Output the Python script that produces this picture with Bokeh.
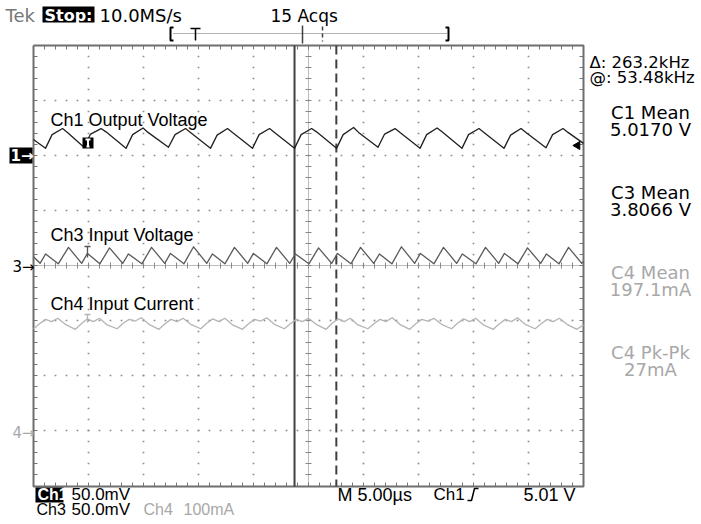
import math
from bokeh.plotting import figure
from bokeh.models import Range1d
from bokeh.core.properties import value
from bokeh.embed import file_html
from bokeh.resources import INLINE

# ---------------- data (time in microseconds, level in screen divisions) -------------
ch1_t = [-25.00, -23.91, -23.31, -22.36, -21.91, -20.41, -19.81, -18.86, -18.41, -16.59, -15.99, -15.04, -14.59,
         -12.73, -12.13, -11.18, -10.73, -8.91, -8.31, -7.36, -6.91, -5.09, -4.49, -3.54, -3.09,
         -1.27, -0.67, 0.28, 0.73, 2.55, 3.15, 4.10, 4.55, 6.32, 6.92, 7.87, 8.32,
         10.14, 10.74, 11.69, 12.14, 13.95, 14.55, 15.50, 15.95, 17.77, 18.37, 19.32, 19.77,
         21.59, 22.19, 23.14, 23.59, 25.00]
ch1_v = [2.29, 2.13, 2.38, 2.49, 2.42, 2.15, 2.39, 2.49, 2.43, 2.13, 2.38, 2.50, 2.42,
         2.15, 2.38, 2.49, 2.42, 2.13, 2.37, 2.49, 2.42, 2.13, 2.38, 2.49, 2.42,
         2.13, 2.38, 2.49, 2.43, 2.13, 2.38, 2.51, 2.42, 2.15, 2.39, 2.49, 2.42,
         2.13, 2.38, 2.50, 2.43, 2.13, 2.38, 2.49, 2.42, 2.13, 2.37, 2.49, 2.42,
         2.14, 2.38, 2.49, 2.42, 2.22]

ch3_t = [-25.00, -24.40, -23.90, -22.75, -21.82, -20.62, -20.10, -18.97, -18.09, -16.89, -16.37, -15.15,
         -14.27, -13.07, -12.55, -11.33, -10.45, -9.25, -8.73, -7.60, -6.73, -5.53, -5.01, -3.78,
         -2.91, -1.71, -1.19, 0.04, 0.91, 2.11, 2.63, 3.86, 4.73, 5.93, 6.45, 7.58,
         8.45, 9.65, 10.17, 11.40, 12.27, 13.47, 13.99, 15.22, 16.09, 17.29, 17.81, 19.04,
         19.91, 21.11, 21.63, 22.77, 23.64, 24.84, 25.00]
ch3_v = [0.16, 0.04, 0.21, 0.03, 0.33, 0.04, 0.22, 0.03, 0.32, 0.04, 0.21, 0.03,
         0.33, 0.04, 0.22, 0.03, 0.34, 0.04, 0.21, 0.03, 0.33, 0.04, 0.22, 0.03,
         0.33, 0.04, 0.21, 0.03, 0.32, 0.04, 0.22, 0.03, 0.33, 0.04, 0.21, 0.03,
         0.34, 0.04, 0.22, 0.03, 0.33, 0.04, 0.21, 0.03, 0.33, 0.04, 0.22, 0.03,
         0.32, 0.04, 0.21, 0.03, 0.33, 0.04, 0.07]

ch4_t = [-25.00, -24.45, -23.90, -23.35, -22.80, -22.10, -21.20, -20.65, -20.10, -19.55, -19.00, -18.30,
         -17.40, -16.85, -16.30, -15.75, -15.20, -14.50, -13.60, -13.05, -12.50, -11.95, -11.40, -10.70,
         -9.80, -9.25, -8.70, -8.15, -7.60, -6.90, -6.00, -5.45, -4.90, -4.35, -3.80, -3.10,
         -2.20, -1.65, -1.10, -0.55, 0.00, 0.70, 1.60, 2.15, 2.70, 3.25, 3.80, 4.50,
         5.40, 5.95, 6.50, 7.05, 7.60, 8.30, 9.20, 9.75, 10.30, 10.85, 11.40, 12.10,
         13.00, 13.55, 14.10, 14.65, 15.20, 15.90, 16.80, 17.35, 17.90, 18.45, 19.00, 19.70,
         20.60, 21.15, 21.70, 22.25, 22.80, 23.50, 24.40, 25.00]
ch4_v = [-1.15, -1.06, -0.98, -1.02, -0.96, -1.07, -1.16, -1.06, -0.97, -1.02, -0.96, -1.08,
         -1.15, -1.05, -0.98, -1.01, -0.95, -1.07, -1.16, -1.06, -0.98, -1.02, -0.96, -1.07,
         -1.15, -1.05, -0.97, -1.02, -0.96, -1.08, -1.16, -1.06, -0.98, -1.01, -0.95, -1.07,
         -1.15, -1.06, -0.98, -1.02, -0.96, -1.07, -1.16, -1.05, -0.97, -1.02, -0.96, -1.08,
         -1.15, -1.06, -0.98, -1.02, -0.95, -1.07, -1.16, -1.06, -0.98, -1.01, -0.96, -1.07,
         -1.15, -1.05, -0.97, -1.02, -0.96, -1.08, -1.16, -1.06, -0.98, -1.02, -0.95, -1.07,
         -1.15, -1.06, -0.98, -1.02, -0.96, -1.07, -1.16, -1.08]

cursor_t = [-1.27, 2.53]          # vertical cursors (solid, dashed)

readouts = [("C1 Mean", "5.0170 V", "#000000"), ("C3 Mean", "3.8066 V", "#000000"),
            ("C4 Mean", "197.1mA", "#a8a8a8"), ("C4 Pk-Pk", "27mA", "#a8a8a8")]

# ---------------- layout helpers (reference pixel -> data) ----------------
def tx(X):
    return (X - 308) / 11.0

def dy(Y):
    return (265 - Y) / 55.0

FONT = value("Liberation Sans")
DJ = value("DejaVu Sans")

W, H = 701, 524
p = figure(width=W, height=H, x_range=Range1d(tx(0), tx(W)), y_range=Range1d(dy(H), dy(0)),
           toolbar_location=None, output_backend="svg", min_border=0,
           x_axis_location=None, y_axis_location=None)
p.xgrid.visible = False
p.ygrid.visible = False
p.outline_line_color = None
p.background_fill_color = "white"
p.border_fill_color = "white"

GRAY = "#8c8c8c"

# graticule dots
dx, dyy = [], []
for k in range(1, 10):
    if k == 5:
        continue
    for j in range(1, 40):
        dx.append(tx(33 + 55 * k)); dyy.append(dy(45 + 11 * j))
for k in range(1, 8):
    if k == 4:
        continue
    for i in range(1, 50):
        dx.append(tx(33 + 11 * i)); dyy.append(dy(45 + 55 * k))
p.scatter(dx, dyy, marker="square", size=1.7, fill_color=GRAY, line_color=None)

# center cross (dense dotted + ticks)
p.segment(x0=[tx(33)], y0=[0], x1=[tx(583)], y1=[0], line_color="#777777", line_width=1, line_dash="1 1")
p.segment(x0=[0], y0=[dy(45)], x1=[0], y1=[dy(486)], line_color="#777777", line_width=1, line_dash="1 1")
cx0, cy0, cx1, cy1 = [], [], [], []
for i in range(1, 50):
    X = 33 + 11 * i
    cx0.append(tx(X)); cy0.append(dy(262)); cx1.append(tx(X)); cy1.append(dy(268))
for j in range(1, 40):
    Y = 45 + 11 * j
    cx0.append(tx(305)); cy0.append(dy(Y)); cx1.append(tx(311)); cy1.append(dy(Y))
p.segment(cx0, cy0, cx1, cy1, line_color="#888888", line_width=1)

# edge ticks
ex0, ey0, ex1, ey1 = [], [], [], []
for i in range(1, 50):
    X = 33 + 11 * i
    ex0 += [tx(X), tx(X)]; ex1 += [tx(X), tx(X)]
    ey0 += [dy(45), dy(486)]; ey1 += [dy(49), dy(482)]
for j in range(1, 40):
    Y = 45 + 11 * j
    ex0 += [tx(33), tx(583)]; ex1 += [tx(37), tx(579)]
    ey0 += [dy(Y), dy(Y)]; ey1 += [dy(Y), dy(Y)]
p.segment(ex0, ey0, ex1, ey1, line_color="#777777", line_width=1)

# frame
p.multi_line(xs=[[tx(33), tx(583), tx(583), tx(33), tx(33)]],
             ys=[[dy(45), dy(45), dy(486), dy(486), dy(45)]], line_color="#6e6e6e", line_width=2)

# cursors
p.segment(x0=[cursor_t[0]], y0=[dy(45)], x1=[cursor_t[0]], y1=[dy(486)], line_color="#404040", line_width=2)
p.segment(x0=[cursor_t[1]], y0=[dy(45)], x1=[cursor_t[1]], y1=[dy(486)], line_color="#404040", line_width=2,
          line_dash="9 5")

# waveforms
p.line(ch4_t, ch4_v, line_color="#b4b4b4", line_width=1.3, line_join="round")
p.line(ch3_t, ch3_v, line_color="#5a5a5a", line_width=1.3, line_join="round")
p.line(ch1_t, ch1_v, line_color="#202020", line_width=1.3, line_join="round")

# trigger markers on traces
p.quad(left=[tx(82)], right=[tx(93)], top=[dy(137)], bottom=[dy(148)], fill_color="black", line_color=None)
p.segment(x0=[tx(85), tx(87.5), tx(86)], y0=[dy(139), dy(139), dy(146)], x1=[tx(90), tx(87.5), tx(89)],
          y1=[dy(139), dy(146), dy(146)], line_color="white", line_width=2)
p.segment(x0=[tx(84), tx(87)], y0=[dy(246), dy(246)], x1=[tx(90), tx(87)], y1=[dy(246), dy(257)],
          line_color="#555555", line_width=1.3)
p.segment(x0=[tx(84), tx(87)], y0=[dy(314), dy(314)], x1=[tx(90), tx(87)], y1=[dy(314), dy(322)],
          line_color="#b4b4b4", line_width=1.3)
# Ch1 trigger level arrow at right
p.scatter([tx(577)], [dy(145)], marker="triangle", size=8, angle=math.pi / 2, fill_color="black", line_color="black")

# record bar at top
p.segment(x0=[tx(173)], y0=[dy(33)], x1=[tx(446)], y1=[dy(33)], line_color="#666666", line_width=1, line_dash="1 1")
p.multi_line(xs=[[tx(173), tx(170), tx(170), tx(173)], [tx(445), tx(448), tx(448), tx(445)]],
             ys=[[dy(27), dy(27), dy(40), dy(40)], [dy(27), dy(27), dy(40), dy(40)]],
             line_color="black", line_width=2)
p.segment(x0=[tx(190), tx(195)], y0=[dy(28), dy(28)], x1=[tx(200), tx(195)], y1=[dy(28), dy(40)],
          line_color="black", line_width=1.5)
p.segment(x0=[tx(302)], y0=[dy(25)], x1=[tx(302)], y1=[dy(43)], line_color="#404040", line_width=1.5)
p.segment(x0=[tx(322)], y0=[dy(26)], x1=[tx(322)], y1=[dy(41)], line_color="#404040", line_width=1.5,
          line_dash="4 3")

# black label boxes
p.quad(left=[tx(42), tx(35), tx(9)], right=[tx(94), tx(63), tx(32)],
       top=[dy(6), dy(487), dy(147)], bottom=[dy(22), dy(502), dy(163)], fill_color="black", line_color=None)


def txt(X, Y, s, color="#000000", size="18px", align="left", style="normal", font=FONT):
    p.text(x=[tx(X)], y=[dy(Y)], text=[s], text_font=font, text_font_size=size, text_color=color,
           text_align=align, text_baseline="middle", text_font_style=style)


# top line
txt(5, 15, "Tek", "#777777", size="18px", font=DJ)
txt(44, 15, "Stop:", "#ffffff", size="16px", style="bold", font=DJ)
txt(99, 15, "10.0MS/s", size="18px", font=DJ)
txt(270, 15, "15 Acqs", size="17px", font=DJ)

# right readouts
txt(589, 62, "\u0394: 263.2kHz", size="16.5px", font=DJ)
txt(589, 77, "@: 53.48kHz", size="16.5px", font=DJ)
for i, (a, b, c) in enumerate(readouts):
    txt(650, 112 + 80 * i, a, c, align="center", size="18px", font=DJ)
    txt(650, 129 + 80 * i, b, c, align="center", size="18px", font=DJ)

# trace labels
txt(50, 119, "Ch1 Output Voltage", size="18px")
txt(50, 234, "Ch3 Input Voltage", size="18px")
txt(50, 303, "Ch4 Input Current", size="18px")

# channel markers
txt(10, 155, "1\u2192", "#ffffff", size="15px", style="bold", font=DJ)
txt(12, 266, "3\u2192", "#000000", size="15px", font=DJ)
txt(12, 432, "4\u2192", "#a8a8a8", size="15px", font=DJ)

# bottom readouts
txt(37, 494, "Ch1", "#ffffff", size="16px", style="bold")
txt(71, 494, "50.0mV", size="17px")
txt(337, 494, "M 5.00\u00b5s", size="18px")
txt(433, 494, "Ch1", size="17px")
p.multi_line(xs=[[tx(467), tx(471), tx(474), tx(478)]], ys=[[dy(500), dy(500), dy(488), dy(488)]],
             line_color="black", line_width=1.5)
txt(575, 494, "5.01 V", align="right", size="18px")
txt(36, 509, "Ch3", size="16px")
txt(71, 509, "50.0mV", size="17px")
txt(143, 509, "Ch4", "#a8a8a8", size="16px")
txt(183, 509, "100mA", "#a8a8a8", size="16px")

open("out.html", "w").write(file_html(p, INLINE))
